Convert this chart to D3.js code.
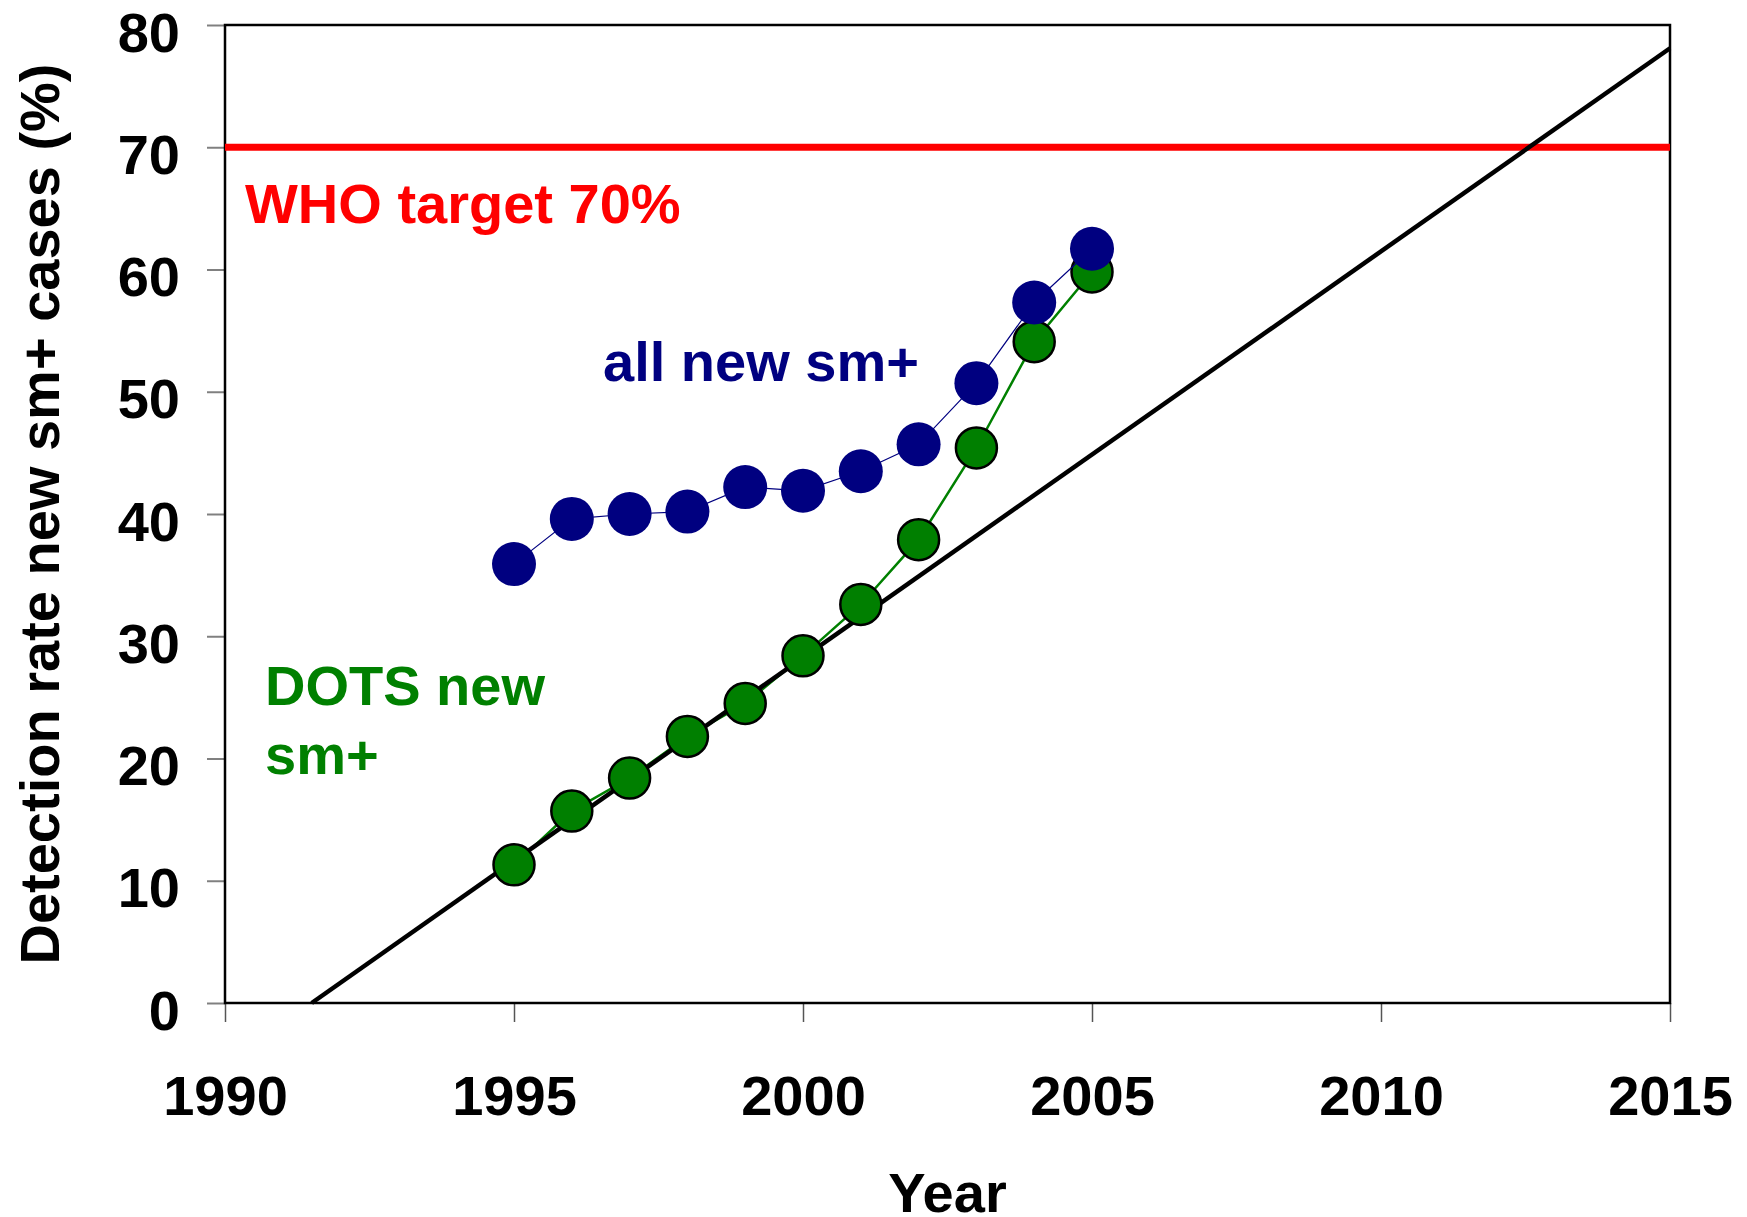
<!DOCTYPE html>
<html>
<head>
<meta charset="utf-8">
<script src="https://cdn.jsdelivr.net/npm/d3@7"></script>
<style>
  body { margin: 0; background: #fff; }
  svg text { font-family: "Liberation Sans", Arial, sans-serif; font-weight: bold; }
</style>
</head>
<body>
<div id="chart"></div>
<script>
'use strict'

// data
const years = [1995, 1996, 1997, 1998, 1999, 2000, 2001, 2002, 2003, 2004, 2005];
const allNewSm = [35.9, 39.6, 40.0, 40.2, 42.2, 41.9, 43.5, 45.7, 50.7, 57.3, 61.7];
const dotsNewSm = [11.3, 15.7, 18.4, 21.8, 24.5, 28.4, 32.6, 37.9, 45.4, 54.1, 59.8];
const trendYears = [1991.5, 2015];
const trendValues = [0, 78.1];
const whoTarget = 70;
const xTicks = [1990, 1995, 2000, 2005, 2010, 2015];
const yTicks = [0, 10, 20, 30, 40, 50, 60, 70, 80];

const W = 1747, H = 1217;
const margin = {left: 225, right: 77, top: 25, bottom: 214};
const width = W - margin.left - margin.right;
const height = H - margin.top - margin.bottom;

const svg = d3.select("#chart")
    .append("svg")
    .attr("width", W)
    .attr("height", H);

const chart = svg.append("g")
    .attr("transform", `translate(${margin.left}, ${margin.top})`);

const xScale = d3.scaleLinear().domain([1990, 2015]).range([0, width]);
const yScale = d3.scaleLinear().domain([0, 80]).range([height, 0]);

// axes
const yAxis = chart.append("g")
    .call(d3.axisLeft(yScale).tickValues(yTicks).tickSize(18).tickPadding(27));
yAxis.select(".domain").remove();
yAxis.selectAll("line").attr("stroke", "#808080").attr("stroke-width", 2);
yAxis.selectAll("text")
    .attr("dy", 26)
    .attr("fill", "#000")
    .style("font-size", "56px");

const xAxis = chart.append("g")
    .attr("transform", `translate(0, ${height})`)
    .call(d3.axisBottom(xScale).tickValues(xTicks).tickSize(19).tickPadding(93).tickFormat(d3.format("d")));
xAxis.select(".domain").remove();
xAxis.selectAll("line").attr("stroke", "#555").attr("stroke-width", 1.5);
xAxis.selectAll("text")
    .attr("dy", 0)
    .attr("fill", "#000")
    .style("font-size", "56px");

// frame
chart.append("rect")
    .attr("x", 0)
    .attr("y", 0)
    .attr("width", width)
    .attr("height", height)
    .attr("fill", "none")
    .attr("stroke", "#000")
    .attr("stroke-width", 2.5);

// WHO target
chart.append("line")
    .attr("x1", 0)
    .attr("x2", width)
    .attr("y1", yScale(whoTarget))
    .attr("y2", yScale(whoTarget))
    .attr("stroke", "#ff0000")
    .attr("stroke-width", 7);

const line = d3.line()
    .x(d => xScale(d[0]))
    .y(d => yScale(d[1]));

const dotsData = years.map((y, i) => [y, dotsNewSm[i]]);
const allData = years.map((y, i) => [y, allNewSm[i]]);
const trendData = trendYears.map((y, i) => [y, trendValues[i]]);

chart.append("path")
    .datum(dotsData)
    .attr("d", line)
    .attr("fill", "none")
    .attr("stroke", "#008000")
    .attr("stroke-width", 2.5);

chart.append("path")
    .datum(trendData)
    .attr("d", line)
    .attr("fill", "none")
    .attr("stroke", "#000")
    .attr("stroke-width", 4.5);

chart.selectAll(".dots")
    .data(dotsData)
    .enter()
    .append("circle")
    .attr("class", "dots")
    .attr("cx", d => xScale(d[0]))
    .attr("cy", d => yScale(d[1]))
    .attr("r", 20.5)
    .attr("fill", "#007f00")
    .attr("stroke", "#000")
    .attr("stroke-width", 2.5);

chart.append("path")
    .datum(allData)
    .attr("d", line)
    .attr("fill", "none")
    .attr("stroke", "#000080")
    .attr("stroke-width", 1.2);

chart.selectAll(".all")
    .data(allData)
    .enter()
    .append("circle")
    .attr("class", "all")
    .attr("cx", d => xScale(d[0]))
    .attr("cy", d => yScale(d[1]))
    .attr("r", 22)
    .attr("fill", "#000080");

// labels in the plot
chart.append("text")
    .attr("x", 20)
    .attr("y", 198)
    .attr("fill", "#ff0000")
    .style("font-size", "56px")
    .text("WHO target 70%");

chart.append("text")
    .attr("x", 378)
    .attr("y", 356)
    .attr("fill", "#000080")
    .style("font-size", "56px")
    .text("all new sm+");

chart.append("text")
    .attr("x", 40)
    .attr("y", 680)
    .attr("fill", "#008000")
    .style("font-size", "56px")
    .text("DOTS new");

chart.append("text")
    .attr("x", 40)
    .attr("y", 749)
    .attr("fill", "#008000")
    .style("font-size", "56px")
    .text("sm+");

// axis titles
svg.append("text")
    .attr("x", margin.left + width / 2)
    .attr("y", 1212)
    .attr("text-anchor", "middle")
    .style("font-size", "56px")
    .text("Year");

svg.append("text")
    .attr("transform", `translate(59, ${margin.top + height / 2}) rotate(-90)`)
    .attr("text-anchor", "middle")
    .style("font-size", "56px")
    .text("Detection rate new sm+ cases (%)");
</script>
</body>
</html>
